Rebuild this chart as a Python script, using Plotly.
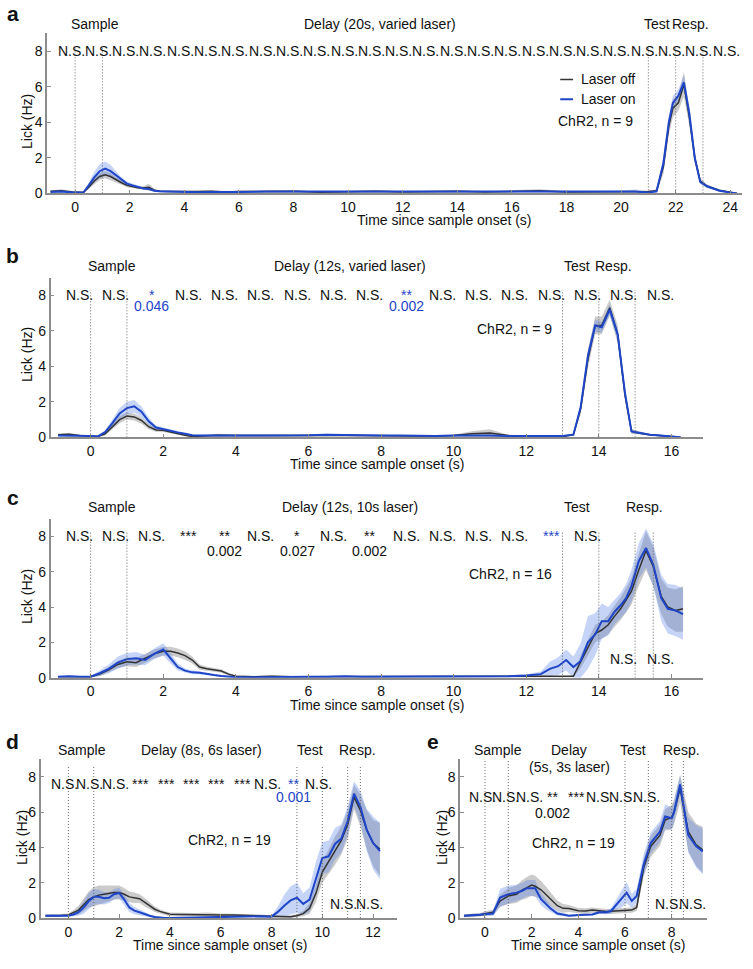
import plotly.graph_objects as go

W, H = 753, 969
FONT = "Liberation Sans, Arial, sans-serif"
BLACK = "#333333"
BLUE = "#1f45c8"
BAND_OFF = "rgba(130,130,130,0.42)"
BAND_ON = "rgba(80,125,230,0.33)"
AXC = "#8c8c8c"

# ---- panel a (20 s delay) ----
t_a = [-0.9, -0.5, -0.1, 0.3, 0.5, 0.7, 0.9, 1.1, 1.3, 1.5, 1.7, 1.9, 2.1, 2.3, 2.5, 2.7, 2.9, 3.1, 3.5, 4,
       4.5, 5, 5.5, 6, 7, 8, 9, 10, 11, 12, 13, 14, 15, 16, 17, 18, 19, 20, 20.5, 21,
       21.3, 21.55, 21.75, 21.9, 22.1, 22.3, 22.5, 22.7, 22.9, 23.15, 23.6, 24.0, 24.25]
off_a = [0.12, 0.15, 0.08, 0.05, 0.35, 0.7, 0.95, 1.05, 0.95, 0.75, 0.6, 0.45, 0.38, 0.32, 0.3, 0.35, 0.18, 0.12, 0.1, 0.08,
         0.1, 0.12, 0.08, 0.1, 0.1, 0.12, 0.06, 0.1, 0.12, 0.08, 0.1, 0.12, 0.08, 0.12, 0.15, 0.08, 0.1, 0.08, 0.12, 0.1,
         0.15, 1.5, 3.8, 4.8, 5.1, 6.15, 4.3, 2.0, 0.7, 0.4, 0.18, 0.05, 0.0]
sem_off_a = [0.06, 0.08, 0.05, 0.04, 0.12, 0.2, 0.2, 0.2, 0.2, 0.15, 0.12, 0.1, 0.1, 0.08, 0.1, 0.2, 0.08, 0.06, 0.05, 0.05,
             0.05, 0.05, 0.05, 0.05, 0.05, 0.05, 0.05, 0.05, 0.05, 0.05, 0.05, 0.05, 0.05, 0.05, 0.08, 0.05, 0.05, 0.05, 0.1, 0.05,
             0.1, 0.4, 0.5, 0.5, 0.45, 0.7, 0.5, 0.3, 0.15, 0.1, 0.06, 0.03, 0.0]
on_a = [0.08, 0.1, 0.05, 0.05, 0.45, 0.9, 1.25, 1.4, 1.25, 1.0, 0.75, 0.55, 0.45, 0.35, 0.28, 0.25, 0.15, 0.12, 0.1, 0.05,
        0.06, 0.08, 0.1, 0.08, 0.1, 0.1, 0.08, 0.08, 0.1, 0.1, 0.12, 0.1, 0.1, 0.08, 0.1, 0.08, 0.1, 0.12, 0.1, 0.05,
        0.12, 1.7, 4.0, 5.1, 5.5, 6.25, 4.5, 2.0, 0.65, 0.4, 0.15, 0.05, 0.0]
sem_on_a = [0.04, 0.05, 0.04, 0.03, 0.15, 0.3, 0.4, 0.4, 0.35, 0.25, 0.15, 0.12, 0.1, 0.08, 0.06, 0.05, 0.05, 0.04, 0.04, 0.03,
            0.03, 0.03, 0.05, 0.04, 0.04, 0.04, 0.03, 0.04, 0.04, 0.04, 0.04, 0.04, 0.04, 0.04, 0.04, 0.03, 0.04, 0.04, 0.04, 0.03,
            0.06, 0.3, 0.4, 0.4, 0.35, 0.4, 0.35, 0.25, 0.1, 0.08, 0.05, 0.03, 0.0]

# ---- panel b (12 s delay, varied laser) ----
t_b = [-0.9, -0.6, -0.3, 0.0, 0.2, 0.4, 0.6, 0.8, 1.0, 1.2, 1.4, 1.6, 1.8, 2.0, 2.2, 2.4, 2.6, 2.8, 3.0, 3.5,
       4, 4.5, 5, 5.5, 6, 6.5, 7, 7.5, 8, 8.5, 9, 9.5, 10, 10.5, 11, 11.5, 12, 12.5, 13, 13.3,
       13.5, 13.7, 13.9, 14.08, 14.3, 14.52, 14.72, 14.9, 15.1, 15.4, 15.7, 16.0, 16.25]
off_b = [0.15, 0.18, 0.1, 0.08, 0.05, 0.2, 0.6, 1.0, 1.2, 1.15, 0.95, 0.6, 0.42, 0.4, 0.3, 0.2, 0.12, 0.05, 0.08, 0.12,
         0.1, 0.08, 0.1, 0.1, 0.12, 0.1, 0.12, 0.1, 0.08, 0.1, 0.08, 0.08, 0.1, 0.2, 0.25, 0.1, 0.08, 0.05, 0.05, 0.15,
         1.6, 4.4, 6.3, 6.3, 7.3, 5.8, 2.4, 0.35, 0.25, 0.15, 0.1, 0.03, 0.0]
sem_off_b = [0.06, 0.08, 0.05, 0.05, 0.04, 0.1, 0.15, 0.2, 0.2, 0.2, 0.18, 0.15, 0.1, 0.1, 0.08, 0.06, 0.05, 0.04, 0.05, 0.08,
             0.05, 0.05, 0.05, 0.05, 0.05, 0.05, 0.05, 0.05, 0.05, 0.05, 0.05, 0.05, 0.05, 0.15, 0.2, 0.05, 0.05, 0.04, 0.04, 0.08,
             0.3, 0.5, 0.5, 0.5, 0.45, 0.5, 0.35, 0.15, 0.1, 0.06, 0.05, 0.03, 0.0]
on_b = [0.1, 0.1, 0.12, 0.08, 0.05, 0.3, 0.8, 1.35, 1.65, 1.75, 1.45, 0.9, 0.55, 0.45, 0.35, 0.28, 0.2, 0.12, 0.1, 0.1,
        0.12, 0.1, 0.08, 0.1, 0.12, 0.15, 0.12, 0.1, 0.1, 0.1, 0.08, 0.08, 0.1, 0.12, 0.1, 0.08, 0.08, 0.05, 0.08, 0.15,
        1.7, 4.6, 6.3, 6.2, 7.2, 5.8, 2.5, 0.33, 0.25, 0.15, 0.1, 0.03, 0.0]
sem_on_b = [0.04, 0.04, 0.04, 0.04, 0.03, 0.1, 0.2, 0.3, 0.35, 0.35, 0.3, 0.2, 0.12, 0.1, 0.08, 0.06, 0.05, 0.04, 0.04, 0.04,
            0.04, 0.04, 0.04, 0.04, 0.05, 0.05, 0.04, 0.04, 0.04, 0.04, 0.04, 0.04, 0.04, 0.04, 0.04, 0.04, 0.04, 0.04, 0.04, 0.06,
            0.25, 0.35, 0.35, 0.3, 0.3, 0.35, 0.25, 0.1, 0.08, 0.05, 0.04, 0.03, 0.0]

# ---- panel c (12 s delay, 10 s laser) ----
t_c = [-0.9, -0.6, -0.3, 0.0, 0.25, 0.5, 0.75, 1.0, 1.25, 1.5, 1.75, 2.0, 2.2, 2.4, 2.6, 2.8, 3.0, 3.2, 3.4, 3.6,
       3.8, 4.0, 4.5, 5, 5.5, 6, 6.5, 7, 7.5, 8, 8.5, 9, 9.5, 10, 10.5, 11, 11.5, 12, 12.4, 12.65,
       12.88, 13.1, 13.3, 13.5, 13.7, 13.9, 14.08, 14.26, 14.44, 14.6, 14.75, 14.9, 15.1, 15.3, 15.5, 15.72, 15.9, 16.12, 16.32]
off_c = [0.05, 0.05, 0.08, 0.05, 0.2, 0.45, 0.75, 0.9, 0.85, 1.1, 1.35, 1.5, 1.5, 1.4, 1.25, 1.0, 0.6, 0.5, 0.45, 0.38,
         0.2, 0.08, 0.05, 0.08, 0.05, 0.05, 0.08, 0.05, 0.05, 0.08, 0.05, 0.05, 0.08, 0.05, 0.05, 0.05, 0.05, 0.05, 0.05, 0.05,
         0.05, 0.05, 0.08, 0.9, 1.7, 2.5, 2.7, 3.0, 3.5, 3.9, 4.4, 4.9, 6.1, 7.2, 6.3, 4.6, 4.0, 3.8, 3.9]
sem_off_c = [0.04, 0.04, 0.05, 0.04, 0.1, 0.15, 0.2, 0.25, 0.25, 0.25, 0.25, 0.25, 0.25, 0.25, 0.25, 0.2, 0.15, 0.12, 0.12, 0.1,
             0.08, 0.05, 0.04, 0.05, 0.04, 0.04, 0.05, 0.04, 0.04, 0.05, 0.04, 0.04, 0.05, 0.04, 0.04, 0.04, 0.04, 0.04, 0.04, 0.04,
             0.04, 0.04, 0.06, 0.35, 0.45, 0.5, 0.5, 0.55, 0.6, 0.65, 0.7, 0.75, 0.9, 1.1, 1.1, 1.0, 1.1, 1.2, 1.3]
on_c = [0.05, 0.08, 0.05, 0.05, 0.25, 0.5, 0.85, 1.05, 1.1, 1.0, 1.35, 1.6, 1.1, 0.6, 0.4, 0.3, 0.28, 0.2, 0.15, 0.1,
        0.05, 0.03, 0.03, 0.05, 0.05, 0.05, 0.05, 0.08, 0.05, 0.05, 0.05, 0.08, 0.05, 0.05, 0.05, 0.05, 0.08, 0.12, 0.2, 0.5,
        0.65, 1.0, 0.6, 0.95, 2.0, 2.45, 3.2, 3.2, 3.75, 4.1, 4.5, 5.2, 6.6, 7.35, 6.4, 4.5, 3.9, 3.8, 3.6]
sem_on_c = [0.05, 0.06, 0.05, 0.05, 0.15, 0.25, 0.35, 0.35, 0.35, 0.3, 0.3, 0.35, 0.3, 0.2, 0.12, 0.1, 0.08, 0.06, 0.05, 0.05,
            0.04, 0.03, 0.03, 0.04, 0.04, 0.04, 0.04, 0.05, 0.04, 0.04, 0.04, 0.05, 0.04, 0.04, 0.04, 0.04, 0.05, 0.08, 0.15, 0.4,
            0.5, 0.6, 0.6, 1.0, 1.5, 1.2, 1.0, 0.8, 0.7, 0.7, 0.8, 0.9, 1.0, 1.1, 1.2, 1.3, 1.4, 1.45, 1.45]

# ---- panel d (8 s delay, 6 s laser) ----
t_d = [-0.9, -0.6, -0.3, 0.0, 0.2, 0.4, 0.6, 0.8, 1.0, 1.2, 1.4, 1.6, 1.8, 2.0, 2.2, 2.4, 2.6, 2.8, 3.0, 3.2,
       3.4, 3.6, 3.8, 4.0, 4.5, 5.0, 5.5, 6.0, 6.5, 7.0, 7.5, 8.0, 8.25, 8.5, 8.75, 9.0, 9.25, 9.5, 9.75, 10.0,
       10.25, 10.5, 10.75, 11.0, 11.25, 11.5, 11.75, 12.0, 12.27]
off_d = [0.13, 0.12, 0.15, 0.18, 0.3, 0.45, 0.75, 1.05, 1.2, 1.3, 1.35, 1.4, 1.45, 1.45, 1.35, 1.2, 1.15, 1.1, 0.9, 0.7,
         0.5, 0.38, 0.28, 0.22, 0.2, 0.2, 0.22, 0.18, 0.17, 0.15, 0.13, 0.08, 0.06, 0.05, 0.08, 0.13, 0.25, 0.55, 1.4, 2.6,
         3.2, 3.8, 4.4, 5.3, 6.85, 6.1, 5.0, 4.25, 3.9]
sem_off_d = [0.08, 0.08, 0.08, 0.08, 0.15, 0.25, 0.35, 0.45, 0.55, 0.55, 0.5, 0.45, 0.4, 0.4, 0.35, 0.3, 0.3, 0.25, 0.25, 0.2,
             0.15, 0.12, 0.1, 0.1, 0.1, 0.08, 0.1, 0.08, 0.08, 0.08, 0.08, 0.06, 0.06, 0.06, 0.08, 0.1, 0.15, 0.3, 0.5, 0.6,
             0.7, 0.8, 0.8, 0.8, 0.7, 0.9, 1.1, 1.3, 1.5]
on_d = [0.13, 0.15, 0.13, 0.13, 0.2, 0.33, 0.6, 0.95, 1.2, 1.2, 1.12, 1.15, 1.35, 1.42, 1.05, 0.6, 0.42, 0.33, 0.22, 0.13,
        0.06, 0.02, 0.0, 0.0, 0.02, 0.02, 0.03, 0.05, 0.08, 0.08, 0.1, 0.08, 0.35, 0.7, 1.0, 1.15, 0.8, 1.05, 2.3, 3.4,
        3.5, 4.2, 4.5, 5.5, 7.05, 6.3, 5.0, 4.25, 3.8]
sem_on_d = [0.06, 0.08, 0.06, 0.06, 0.1, 0.2, 0.35, 0.45, 0.45, 0.4, 0.35, 0.3, 0.3, 0.3, 0.3, 0.25, 0.2, 0.15, 0.1, 0.08,
            0.05, 0.03, 0.03, 0.03, 0.03, 0.03, 0.03, 0.04, 0.05, 0.05, 0.05, 0.05, 0.3, 0.6, 0.8, 0.85, 0.6, 0.7, 0.9, 0.9,
            0.9, 0.9, 0.8, 0.8, 0.7, 0.9, 1.2, 1.5, 1.6]

# ---- panel e (5 s delay, 3 s laser) ----
t_e = [-0.9, -0.5, -0.2, 0.0, 0.35, 0.65, 1.0, 1.35, 1.6, 1.8, 2.0, 2.15, 2.4, 2.6, 2.8, 3.1, 3.35, 3.6, 4.0, 4.3,
       4.6, 4.9, 5.2, 5.4, 5.65, 5.85, 6.07, 6.29, 6.5, 6.8, 7.1, 7.5, 7.72, 8.0, 8.1, 8.36, 8.71, 9.05, 9.33]
off_e = [0.13, 0.15, 0.19, 0.25, 0.33, 0.97, 1.25, 1.35, 1.6, 1.72, 1.87, 1.8, 1.6, 1.35, 1.07, 0.7, 0.55, 0.54, 0.42, 0.4,
         0.45, 0.4, 0.37, 0.38, 0.41, 0.42, 0.45, 0.45, 0.6, 2.85, 4.06, 4.7, 5.56, 5.7, 6.0, 7.33, 4.9, 4.15, 3.87]
sem_off_e = [0.08, 0.1, 0.1, 0.12, 0.15, 0.35, 0.45, 0.5, 0.55, 0.6, 0.6, 0.6, 0.5, 0.45, 0.4, 0.3, 0.25, 0.2, 0.15, 0.15,
             0.15, 0.15, 0.15, 0.15, 0.15, 0.15, 0.15, 0.15, 0.2, 0.5, 0.6, 0.6, 0.6, 0.7, 0.7, 0.8, 1.1, 1.2, 1.3]
on_e = [0.13, 0.15, 0.19, 0.22, 0.26, 1.16, 1.35, 1.44, 1.55, 1.69, 1.7, 1.69, 1.07, 0.8, 0.56, 0.26, 0.2, 0.13, 0.17, 0.18,
        0.2, 0.33, 0.33, 0.4, 0.8, 1.1, 1.44, 0.97, 1.25, 3.03, 4.25, 4.9, 5.75, 5.65, 6.0, 7.57, 4.7, 4.06, 3.78]
sem_on_e = [0.06, 0.08, 0.08, 0.1, 0.15, 0.5, 0.5, 0.45, 0.45, 0.45, 0.45, 0.45, 0.35, 0.3, 0.2, 0.12, 0.08, 0.06, 0.06, 0.06,
            0.06, 0.1, 0.1, 0.15, 0.3, 0.5, 0.6, 0.4, 0.4, 0.6, 0.6, 0.6, 0.7, 0.6, 0.6, 0.5, 1.0, 1.2, 1.3]

# epoch boundaries (dotted lines)
epochs_a = [0, 1, 21, 22, 23]
epochs_b = [0, 1, 13, 14, 15]
epochs_c = [0, 1, 13, 14, 15, 15.5]
epochs_d = [0, 1, 9, 10, 11, 11.5]
epochs_e = [0, 1, 6, 7, 8, 8.5]

# significance labels
sig_a_text = ["N.S."] * 25
sig_b_text = ["N.S.", "N.S.", "*", "N.S.", "N.S.", "N.S.", "N.S.", "N.S.", "N.S.", "**",
              "N.S.", "N.S.", "N.S.", "N.S.", "N.S.", "N.S.", "N.S."]
sig_b_col = ["k", "k", "b", "k", "k", "k", "k", "k", "k", "b", "k", "k", "k", "k", "k", "k", "k"]
pval_b = [(1.69, "0.046", "b"), (8.69, "0.002", "b")]
sig_c_text = ["N.S.", "N.S.", "N.S.", "***", "**", "N.S.", "*", "N.S.", "**", "N.S.",
              "N.S.", "N.S.", "N.S.", "***", "N.S."]
sig_c_col = ["k"] * 13 + ["b", "k"]
pval_c = [(3.69, "0.002", "k"), (5.69, "0.027", "k"), (7.69, "0.002", "k")]
low_c = [14.69, 15.69]
sig_d_text = ["N.S.", "N.S.", "N.S.", "***", "***", "***", "***", "***", "N.S.", "**", "N.S."]
sig_d_col = ["k"] * 9 + ["b", "k"]
pval_d = [(8.85, "0.001", "b")]
low_d = [10.85, 11.85]
sig_e_text = ["N.S.", "N.S.", "N.S.", "**", "***", "N.S.", "N.S.", "N.S."]
sig_e_col = ["k"] * 8
pval_e = [(2.9, "0.002", "k")]
low_e = [7.88, 8.87]


def px_x(p):
    return p / W


def px_y(p):
    return 1 - p / H


def band(t, m, s, color, ax):
    up = [a + b for a, b in zip(m, s)]
    lo = [max(a - b, 0) for a, b in zip(m, s)]
    return go.Scatter(x=list(t) + list(t)[::-1], y=up + lo[::-1], fill="toself", fillcolor=color,
                      line=dict(width=0), hoverinfo="skip", xaxis="x" + ax, yaxis="y" + ax)


def line(t, m, color, width, ax):
    return go.Scatter(x=t, y=m, mode="lines", line=dict(color=color, width=width),
                      xaxis="x" + ax, yaxis="y" + ax)


# pixel geometry of each panel: (x left, x right, y bottom, y top), axis ranges
geom = {
    "": ((47, 742, 195, 33), [-1.03, 24.43], [0, 9.05]),
    "2": ((50.7, 703, 441, 280), [-1.1, 16.87], [0, 8.99]),
    "3": ((50.7, 703, 683.3, 523.3), [-1.1, 16.87], [0, 8.99]),
    "4": ((40.7, 396.7, 925.7, 765), [-1.09, 12.93], [0, 9.03]),
    "5": ((460, 706.7, 925.7, 765), [-1.07, 9.5], [0, 9.03]),
}


def txt(x, y, text, ax, color="k", size=14, **kw):
    # x in data units, y in data units expressed against the axis domain (so it may sit above the plot)
    c = {"k": "#111111", "b": BLUE}.get(color, color)
    ytop = geom[ax][2][1]
    d = dict(x=x, y=y / ytop, text=text, xref="x" + ax, yref="y" + ax + " domain", showarrow=False,
             xanchor="center", yanchor="middle",
             font=dict(family=FONT, size=size, color=c))
    d.update(kw)
    return d


def ptxt(x, y, text, size=14, **kw):
    d = dict(x=px_x(x), y=px_y(y), text=text, xref="paper", yref="paper", showarrow=False,
             xanchor="center", yanchor="middle",
             font=dict(family=FONT, size=size, color="#111111"))
    d.update(kw)
    return d


panels = [
    ("", t_a, off_a, sem_off_a, on_a, sem_on_a),
    ("2", t_b, off_b, sem_off_b, on_b, sem_on_b),
    ("3", t_c, off_c, sem_off_c, on_c, sem_on_c),
    ("4", t_d, off_d, sem_off_d, on_d, sem_on_d),
    ("5", t_e, off_e, sem_off_e, on_e, sem_on_e),
]

fig = go.Figure()
for ax, t, off, soff, on, son in panels:
    fig.add_trace(band(t, off, soff, BAND_OFF, ax))
    fig.add_trace(band(t, on, son, BAND_ON, ax))
    fig.add_trace(line(t, off, BLACK, 1.5, ax))
    fig.add_trace(line(t, on, BLUE, 2, ax))

axis_common = dict(showline=True, linecolor=AXC, linewidth=1.5, ticks="inside", ticklen=4,
                   tickcolor=AXC, tickwidth=1, showgrid=False, zeroline=False,
                   tickfont=dict(family=FONT, size=14, color="#111111"))
xstyle = dict(axis_common, dtick=2, tick0=0)
ystyle = dict(axis_common, tickvals=[0, 2, 4, 6, 8])

lay = {}
for ax, (px, xr, yr) in geom.items():
    l, r, b, tp = px
    lay["xaxis" + ax] = dict(xstyle, domain=[px_x(l), px_x(r)], range=xr, anchor="y" + ax)
    lay["yaxis" + ax] = dict(ystyle, domain=[px_y(b), px_y(tp)], range=yr, anchor="x" + ax)

shapes = []
for ax, ep, top in [("", epochs_a, 8.3), ("2", epochs_b, 8.3), ("3", epochs_c, 8.3),
                    ("4", epochs_d, 8.6), ("5", epochs_e, 8.9)]:
    for v in ep:
        shapes.append(dict(type="line", xref="x" + ax, yref="y" + ax, x0=v, x1=v, y0=0, y1=top,
                           line=dict(color="#666666", width=1, dash="1px,2px")))
# legend samples in panel a
shapes.append(dict(type="line", xref="x", yref="y", x0=17.77, x1=18.24, y0=6.42, y1=6.42,
                   line=dict(color=BLACK, width=1.5)))
shapes.append(dict(type="line", xref="x", yref="y", x0=17.77, x1=18.24, y0=5.3, y1=5.3,
                   line=dict(color=BLUE, width=2)))

ann = []
# panel a
ann += [txt(0.73, 9.55, "Sample", ""), txt(11.17, 9.55, "Delay (20s, varied laser)", ""),
        txt(21.3, 9.55, "Test", ""), txt(22.56, 9.55, "Resp.", "")]
ann += [txt(i - 0.15, 8, s, "") for i, s in enumerate(sig_a_text)]
ann += [txt(18.46, 6.42, "Laser off", "", xanchor="left"), txt(18.46, 5.3, "Laser on", "", xanchor="left"),
        txt(19.05, 4.1, "ChR2, n = 9", "")]
# panel b
ann += [txt(0.59, 9.66, "Sample", "2"), txt(7.14, 9.66, "Delay (12s, varied laser)", "2"),
        txt(13.41, 9.66, "Test", "2"), txt(14.41, 9.66, "Resp.", "2")]
ann += [txt(i - 0.31, 8, s, "2", c) for i, (s, c) in enumerate(zip(sig_b_text, sig_b_col))]
ann += [txt(x, 7.41, s, "2", c) for x, s, c in pval_b]
ann += [txt(11.69, 6.1, "ChR2, n = 9", "2")]
# panel c
ann += [txt(0.59, 9.68, "Sample", "3"), txt(7.14, 9.68, "Delay (12s, 10s laser)", "3"),
        txt(13.41, 9.68, "Test", "3"), txt(15.27, 9.68, "Resp.", "3")]
ann += [txt(i - 0.31, 8, s, "3", c) for i, (s, c) in enumerate(zip(sig_c_text, sig_c_col))]
ann += [txt(x, 7.2, s, "3", c) for x, s, c in pval_c]
ann += [txt(x, 1.03, "N.S.", "3") for x in low_c]
ann += [txt(11.58, 5.9, "ChR2, n = 16", "3")]
# panel d
ann += [txt(0.53, 9.55, "Sample", "4"), txt(5.25, 9.55, "Delay (8s, 6s laser)", "4"),
        txt(9.52, 9.55, "Test", "4"), txt(11.4, 9.55, "Resp.", "4")]
ann += [txt(i - 0.15, 7.62, s, "4", c) for i, (s, c) in enumerate(zip(sig_d_text, sig_d_col))]
ann += [txt(x, 6.88, s, "4", c) for x, s, c in pval_d]
ann += [txt(x, 0.79, "N.S.", "4") for x in low_d]
ann += [txt(6.33, 4.44, "ChR2, n = 19", "4")]
# panel e
ann += [txt(0.54, 9.55, "Sample", "5"), txt(3.61, 9.55, "Delay", "5"),
        txt(3.61, 8.56, "(5s, 3s laser)", "5"),
        txt(6.36, 9.55, "Test", "5"), txt(8.4, 9.55, "Resp.", "5")]
ann += [txt(i - 0.1, 6.88, s, "5", c) for i, (s, c) in enumerate(zip(sig_e_text, sig_e_col))]
ann += [txt(x, 5.94, s, "5", c) for x, s, c in pval_e]
ann += [txt(x, 0.79, "N.S.", "5") for x in low_e]
ann += [txt(3.81, 4.25, "ChR2, n = 19", "5")]

# axis titles and panel letters
xt = "Time since sample onset (s)"
ann += [ptxt(444, 222, xt), ptxt(377, 468, xt), ptxt(377, 711, xt), ptxt(220, 953, xt), ptxt(598, 953, xt)]
for x, y in [(27, 123), (27, 358), (27, 602), (22, 845), (442, 845)]:
    ann.append(ptxt(x, y, "Lick (Hz)", textangle=-90))
for x, y, s in [(13, 14, "a"), (13, 258, "b"), (13, 502, "c"), (13, 748, "d"), (433, 748, "e")]:
    ann.append(ptxt(x, y, "<b>" + s + "</b>", size=21))

fig.update_layout(
    width=W, height=H,
    margin=dict(l=0, r=0, t=0, b=0),
    paper_bgcolor="white", plot_bgcolor="white",
    showlegend=False,
    shapes=shapes,
    annotations=ann,
    **lay
)

# drop the page's default body margin so the figure sits at the window's corner
fig.write_html("out.html", config={"displayModeBar": False},
               post_script="document.body.style.margin='0';document.body.style.overflow='hidden';")
